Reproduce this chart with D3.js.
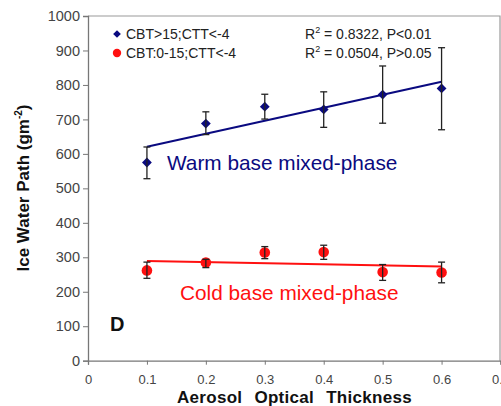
<!DOCTYPE html>
<html>
<head>
<meta charset="utf-8">
<script src="https://cdn.jsdelivr.net/npm/d3@7"></script>
<style>
	body { margin: 0; background: #fff; }
	svg { display: block; font-family: "Liberation Sans", Arial, sans-serif; }
</style>
</head>
<body>
<svg id="chart"></svg>
<script>
// values
const aot = [0.1, 0.2, 0.3, 0.4, 0.5, 0.6];
const warmMean = [575, 688, 737, 729, 772, 790];
const warmLow = [528, 656, 701, 677, 689, 670];
const warmHigh = [620, 722, 773, 780, 855, 908];
const coldMean = [262, 285, 314, 315, 257, 256];
const coldLow = [239, 270, 296, 294, 233, 226];
const coldHigh = [286, 294, 331, 335, 279, 286];
const xTicks = [0, 0.1, 0.2, 0.3, 0.4, 0.5, 0.6, 0.7];
const yTicks = [0, 100, 200, 300, 400, 500, 600, 700, 800, 900, 1000];

const width = 501;
const height = 406;
const plotLeft = 88, plotRight = 500.5, plotTop = 16, plotBottom = 360.7;

const svg = d3.select("#chart")
	.attr("width", width)
	.attr("height", height);

const x = d3.scaleLinear().domain([0, 0.7]).range([plotLeft, plotRight]);
const y = d3.scaleLinear().domain([0, 1000]).range([plotBottom, plotTop]);

// frame (top and right)
svg.append("path")
	.attr("d", `M${plotLeft},${plotTop}H${plotRight - 0.5}V${plotBottom}`)
	.attr("fill", "none")
	.attr("stroke", "#9a9a9a")
	.attr("stroke-width", 1.2);

// axes
const yAxis = svg.append("g")
	.attr("transform", `translate(${plotLeft},0)`)
	.call(d3.axisLeft(y).tickValues(yTicks).tickSize(5).tickPadding(3).tickFormat(d3.format("d")));
const xAxis = svg.append("g")
	.attr("transform", `translate(0,${plotBottom})`)
	.call(d3.axisBottom(x).tickValues(xTicks).tickSize(4).tickPadding(10)
		.tickFormat(d => d === 0 ? "0" : d3.format(".1f")(d)));

[yAxis, xAxis].forEach(ax => {
	ax.select(".domain").attr("stroke", "#777").attr("stroke-width", 1.3);
	ax.selectAll(".tick line").attr("stroke", "#777");
	ax.selectAll(".tick text")
		.attr("fill", "#444")
		.style("font-family", "'Liberation Sans', Arial, sans-serif");
});
yAxis.selectAll(".tick text").style("font-size", "14.5px");
xAxis.selectAll(".tick text").style("font-size", "13px");

// axis titles
svg.append("text")
	.attr("transform", `translate(29,188) rotate(-90)`)
	.attr("text-anchor", "middle")
	.style("font-size", "17px")
	.style("font-weight", "bold")
	.attr("fill", "#111")
	.html('Ice Water Path (gm<tspan dy="-7" font-size="10px">-2</tspan><tspan dy="7">)</tspan>');

svg.append("text")
	.attr("x", 294.5)
	.attr("y", 402.5)
	.attr("text-anchor", "middle")
	.style("font-size", "17px")
	.style("font-weight", "bold")
	.style("letter-spacing", "0.3px")
	.style("word-spacing", "7px")
	.attr("fill", "#111")
	.text("Aerosol Optical Thickness");

// least squares trend line
function trend(xs, ys) {
	const mx = d3.mean(xs), my = d3.mean(ys);
	const slope = d3.sum(xs, (d, i) => (d - mx) * (ys[i] - my)) / d3.sum(xs, d => (d - mx) * (d - mx));
	return xs.map(d => [d, my + slope * (d - mx)]);
}

const series = [
	{ mean: warmMean, low: warmLow, high: warmHigh, color: "#0a0a80", shape: "diamond" },
	{ mean: coldMean, low: coldLow, high: coldHigh, color: "#ff1010", shape: "circle" }
];

const line = d3.line().x(d => x(d[0])).y(d => y(d[1]));

series.forEach(s => {
	const t = trend(aot, s.mean);
	svg.append("path")
		.attr("d", line([t[0], t[t.length - 1]]))
		.attr("fill", "none")
		.attr("stroke", s.color)
		.attr("stroke-width", 2);

	const g = svg.append("g");
	aot.forEach((a, i) => {
		if (s.shape === "diamond") {
			g.append("path")
				.attr("d", d3.symbol(d3.symbolSquare, 48)())
				.attr("transform", `translate(${x(a)},${y(s.mean[i])}) rotate(45)`)
				.attr("fill", s.color);
		} else {
			g.append("circle")
				.attr("cx", x(a))
				.attr("cy", y(s.mean[i]))
				.attr("r", 5.3)
				.attr("fill", s.color);
		}
	});

	// error bars
	const e = svg.append("g").attr("stroke", "#222").attr("stroke-width", 1.3);
	aot.forEach((a, i) => {
		e.append("line")
			.attr("x1", x(a)).attr("x2", x(a))
			.attr("y1", y(s.low[i])).attr("y2", y(s.high[i]));
		[s.low[i], s.high[i]].forEach(v => {
			e.append("line")
				.attr("x1", x(a) - 3.5).attr("x2", x(a) + 3.5)
				.attr("y1", y(v)).attr("y2", y(v));
		});
	});
});

// legend
const legend = svg.append("g").attr("transform", "translate(117,0)");
legend.append("path")
	.attr("d", d3.symbol(d3.symbolSquare, 30)())
	.attr("transform", "translate(0,34) rotate(45)")
	.attr("fill", "#0a0a80");
legend.append("circle")
	.attr("cx", 0).attr("cy", 53).attr("r", 4.2)
	.attr("fill", "#ff1010");
legend.append("text")
	.attr("x", 9).attr("y", 39)
	.style("font-size", "14px")
	.attr("fill", "#222")
	.text("CBT>15;CTT<-4");
legend.append("text")
	.attr("x", 9).attr("y", 58)
	.style("font-size", "14px")
	.attr("fill", "#222")
	.text("CBT:0-15;CTT<-4");

// statistics
const stats = [["0.8322", "P<0.01"], ["0.0504", "P>0.05"]];
stats.forEach((s, i) => {
	svg.append("text")
		.attr("x", 305)
		.attr("y", 38.5 + i * 19)
		.style("font-size", "14px")
		.attr("fill", "#222")
		.html(`R<tspan dy="-5.5" font-size="9px">2</tspan><tspan dy="5.5"> = ${s[0]}, ${s[1]}</tspan>`);
});

// labels
svg.append("text")
	.attr("x", 167).attr("y", 170)
	.style("font-size", "20.8px")
	.attr("fill", "#0a0a80")
	.text("Warm base mixed-phase");
svg.append("text")
	.attr("x", 180).attr("y", 300)
	.style("font-size", "20.8px")
	.attr("fill", "#ff1010")
	.text("Cold base mixed-phase");
svg.append("text")
	.attr("x", 110).attr("y", 331)
	.style("font-size", "20px")
	.style("font-weight", "bold")
	.attr("fill", "#111")
	.text("D");
</script>
</body>
</html>
